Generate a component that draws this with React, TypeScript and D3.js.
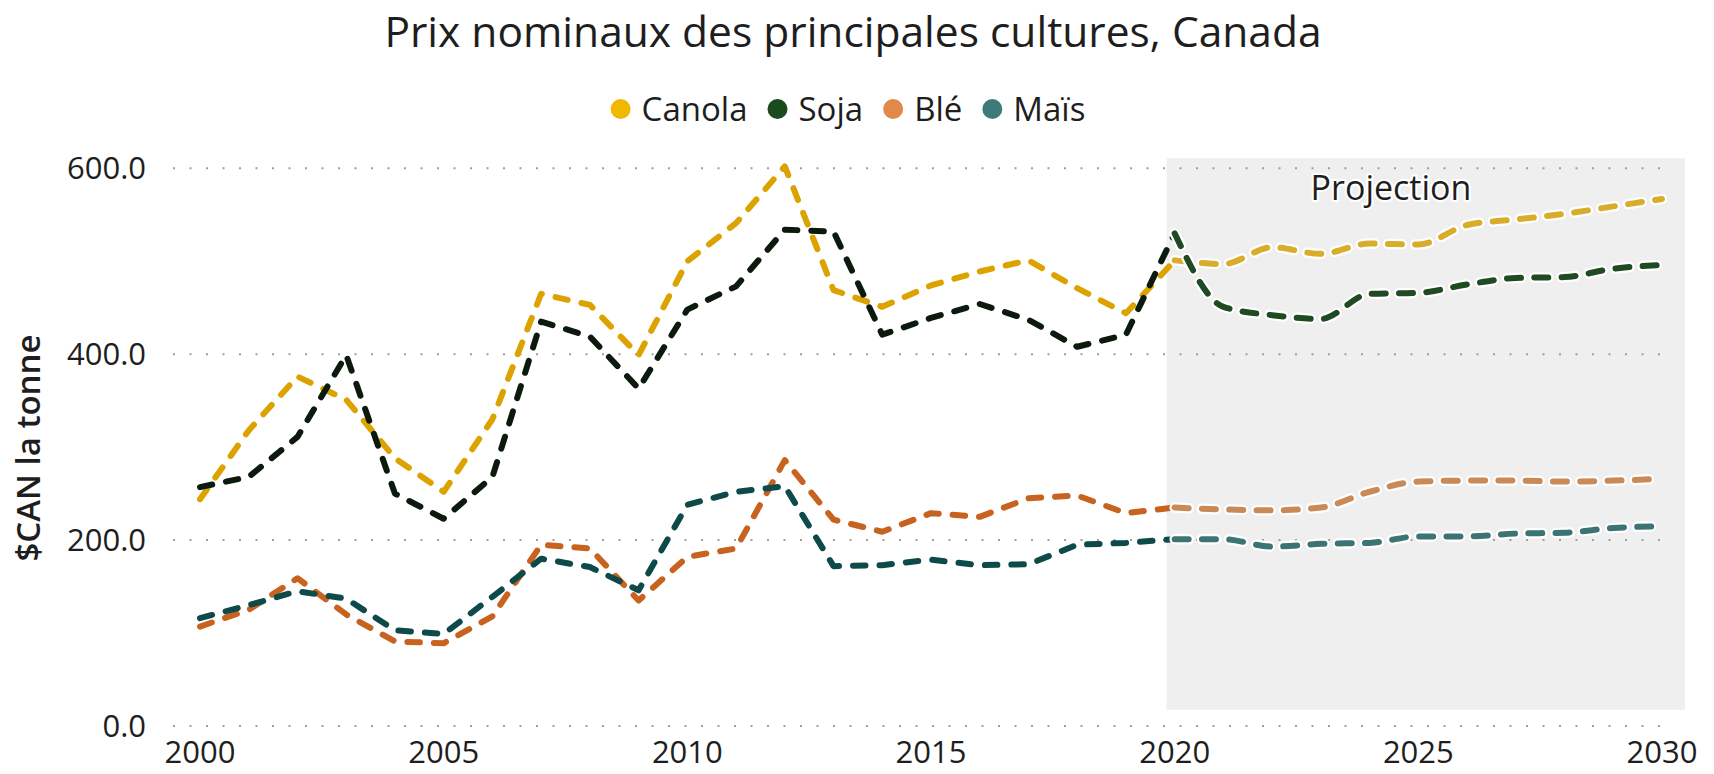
import React, { useRef, useEffect } from 'react';
import * as d3 from 'd3';

// années (historique 2000-2020, projection 2020-2030)
const years = [
  2000, 2001, 2002, 2003, 2004, 2005, 2006, 2007, 2008, 2009, 2010,
  2011, 2012, 2013, 2014, 2015, 2016, 2017, 2018, 2019, 2020,
  2021, 2022, 2023, 2024, 2025, 2026, 2027, 2028, 2029, 2030
];
const PROJECTION_START = 2020;

// $CAN la tonne
const canola = [244, 318, 376, 351, 288, 252, 330, 465, 453, 399, 500, 541, 602, 469, 451, 474, 489, 501, 471, 444, 501, 497, 515, 508, 519, 518, 539, 545, 551, 559, 567];
const soja = [257, 268, 311, 399, 250, 223, 268, 435, 419, 363, 448, 473, 534, 532, 421, 439, 454, 437, 408, 421, 530, 451, 442, 438, 465, 466, 475, 482, 483, 492, 496];
const ble = [107, 125, 159, 120, 91, 89, 118, 195, 191, 135, 182, 191, 286, 222, 209, 229, 225, 245, 248, 229, 235, 233, 232, 235, 252, 263, 264, 264, 263, 264, 266];
const mais = [116, 130, 145, 137, 103, 99, 139, 180, 171, 146, 238, 252, 258, 172, 173, 179, 173, 174, 195, 197, 201, 201, 193, 196, 197, 204, 204, 207, 208, 213, 215];

const yTicks = [0, 200, 400, 600];
const xTicks = [2000, 2005, 2010, 2015, 2020, 2025, 2030];

const seriesNames = ['Canola', 'Soja', 'Blé', 'Maïs'];
const seriesValues = [canola, soja, ble, mais];
// couleurs : historique, projection, légende
const histColors = ['#DCA300', '#0C1A0E', '#C8621F', '#0E4A4A'];
const projColors = ['#D9AD2C', '#1F4A22', '#C98A57', '#3B7473'];
const legendColors = ['#F0B800', '#1C4A1F', '#E0894A', '#3E7A7A'];

const FONT = "'Open Sans', sans-serif";
const TEXT_COLOR = '#1E1E1E';
const WIDTH = 1714;
const HEIGHT = 774;

function drawChart(svgEle: SVGSVGElement) {
  const svg = d3.select(svgEle);
  svg.selectAll('*').remove();

  const x = d3.scaleLinear().domain([2000, 2030]).range([200, 1662]);
  const y = d3.scaleLinear().domain([0, 600]).range([726, 168.3]);

  // zone de projection
  svg
    .append('rect')
    .attr('x', x(PROJECTION_START) - 8)
    .attr('y', y(600) - 10)
    .attr('width', x(2030) + 23 - (x(PROJECTION_START) - 8))
    .attr('height', y(0) - 16 - (y(600) - 10))
    .attr('fill', '#EFEFEF');

  // lignes de grille pointillées
  svg
    .selectAll()
    .data(yTicks)
    .enter()
    .append('line')
    .attr('x1', x(2000) - 27)
    .attr('x2', x(2030) + 10)
    .attr('y1', (d) => y(d))
    .attr('y2', (d) => y(d))
    .attr('stroke', '#9E9E9E')
    .attr('stroke-width', 2)
    .attr('stroke-dasharray', '2 14.5');

  // étiquettes axe y
  svg
    .selectAll()
    .data(yTicks)
    .enter()
    .append('text')
    .attr('x', 146)
    .attr('y', (d) => y(d))
    .attr('dy', '0.36em')
    .attr('text-anchor', 'end')
    .attr('font-family', FONT)
    .attr('font-size', 31)
    .attr('fill', TEXT_COLOR)
    .text((d) => d3.format('.1f')(d));

  // étiquettes axe x
  svg
    .selectAll()
    .data(xTicks)
    .enter()
    .append('text')
    .attr('x', (d) => x(d))
    .attr('y', 763)
    .attr('text-anchor', 'middle')
    .attr('font-family', FONT)
    .attr('font-size', 31)
    .attr('fill', TEXT_COLOR)
    .text((d) => String(d));

  // titre axe y
  svg
    .append('text')
    .attr('transform', `translate(40, 448) rotate(-90)`)
    .attr('text-anchor', 'middle')
    .attr('font-family', FONT)
    .attr('font-size', 33)
    .attr('font-weight', 600)
    .attr('fill', TEXT_COLOR)
    .text('$CAN la tonne');

  // texte « Projection »
  svg
    .append('text')
    .attr('x', 1391)
    .attr('y', 200)
    .attr('text-anchor', 'middle')
    .attr('font-family', FONT)
    .attr('font-size', 34)
    .attr('fill', TEXT_COLOR)
    .attr('stroke', 'white')
    .attr('stroke-width', 4)
    .attr('paint-order', 'stroke')
    .text('Projection');

  const splitIndex = years.indexOf(PROJECTION_START);
  const histLine = d3
    .line<[number, number]>()
    .x((d) => x(d[0]))
    .y((d) => y(d[1]));
  const projLine = d3
    .line<[number, number]>()
    .x((d) => x(d[0]))
    .y((d) => y(d[1]))
    .curve(d3.curveMonotoneX);

  seriesValues.forEach((values, i) => {
    const points = values.map((v, k) => [years[k], v] as [number, number]);
    const hist = points.slice(0, splitIndex + 1);
    const proj = points.slice(splitIndex);

    svg
      .append('path')
      .attr('d', histLine(hist))
      .attr('fill', 'none')
      .attr('stroke', histColors[i])
      .attr('stroke-width', 6)
      .attr('stroke-linecap', 'round')
      .attr('stroke-linejoin', 'round')
      .attr('stroke-dasharray', '12.5 14');

    // halo blanc de la projection
    svg
      .append('path')
      .attr('d', projLine(proj))
      .attr('fill', 'none')
      .attr('stroke', 'white')
      .attr('stroke-width', 10.5)
      .attr('stroke-linecap', 'round')
      .attr('stroke-linejoin', 'round')
      .attr('stroke-dasharray', '14 13.3');
    svg
      .append('path')
      .attr('d', projLine(proj))
      .attr('fill', 'none')
      .attr('stroke', projColors[i])
      .attr('stroke-width', 6)
      .attr('stroke-linecap', 'round')
      .attr('stroke-linejoin', 'round')
      .attr('stroke-dasharray', '14 13.3');
  });

  // titre
  svg
    .append('text')
    .attr('x', 853)
    .attr('y', 47)
    .attr('text-anchor', 'middle')
    .attr('font-family', FONT)
    .attr('font-size', 42.5)
    .attr('fill', TEXT_COLOR)
    .text('Prix nominaux des principales cultures, Canada');

  // légende, centrée
  const legend = svg.append('g');
  const LEGEND_Y = 109;
  const DOT_R = 10;
  const TEXT_OFFSET = 21;
  const ITEM_GAP = 30;
  let cursor = 0;
  seriesNames.forEach((name, i) => {
    legend
      .append('circle')
      .attr('cx', cursor + DOT_R)
      .attr('cy', LEGEND_Y)
      .attr('r', DOT_R)
      .attr('fill', legendColors[i]);
    const t = legend
      .append('text')
      .attr('x', cursor + DOT_R + TEXT_OFFSET)
      .attr('y', LEGEND_Y)
      .attr('dy', '0.36em')
      .attr('font-family', FONT)
      .attr('font-size', 33)
      .attr('fill', TEXT_COLOR)
      .text(name);
    const w = (t.node() as SVGTextElement).getComputedTextLength();
    cursor += DOT_R + TEXT_OFFSET + w + ITEM_GAP - DOT_R;
  });
  const legendWidth = cursor - ITEM_GAP + DOT_R;
  legend.attr('transform', `translate(${848 - legendWidth / 2}, 0)`);
}

export default function App(): JSX.Element {
  const svgRef = useRef<SVGSVGElement>(null);

  useEffect(() => {
    const svgEle = svgRef.current;
    if (svgEle == null) {
      return;
    }
    drawChart(svgEle);
  }, []);

  return (
    <svg
      ref={svgRef}
      width={WIDTH}
      height={HEIGHT}
      style={{ position: 'absolute', left: 0, top: 0, background: 'white' }}
    />
  );
}
